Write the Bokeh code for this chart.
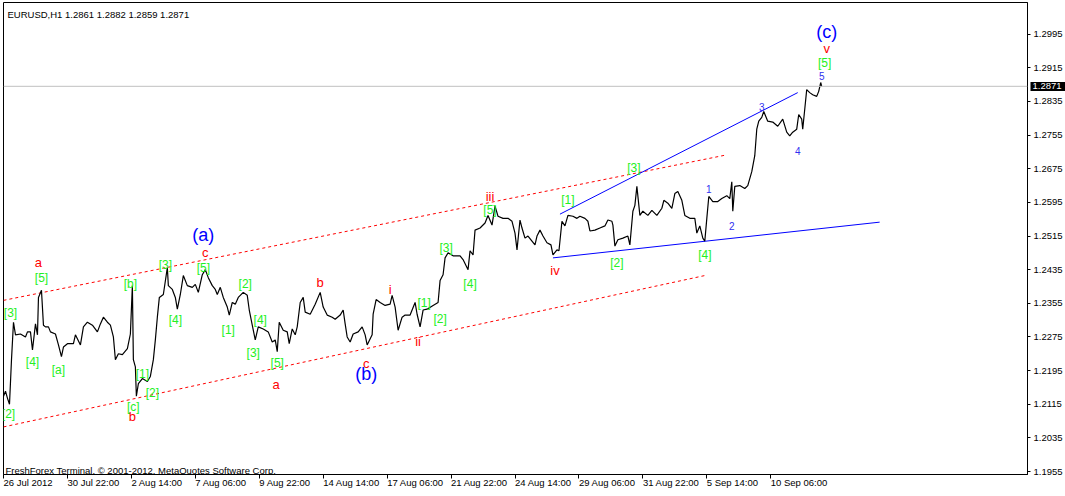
from bokeh.plotting import figure
from bokeh.models import Range1d, FixedTicker, Span, PrintfTickFormatter, LinearAxis
from bokeh.core.properties import value
from bokeh.embed import file_html
from bokeh.resources import INLINE

# ---- price series (H1 close, bar index from 26 Jul 2012) ----
bars = [0, 2, 4, 6, 8, 10, 12, 17, 22, 24, 27, 29, 32, 34, 35, 38, 40, 42, 45, 47,
        52, 55, 58, 60, 64, 70, 72, 77, 80, 84, 89, 94, 97, 100, 104, 107, 110, 112, 115, 119,
        124, 127, 129, 130, 132, 133, 135, 139, 144, 147, 150, 152, 154, 156, 160, 164, 165, 169, 172, 174,
        177, 180, 184, 189, 192, 195, 199, 202, 205, 209, 212, 214, 217, 220, 224, 226, 229, 232, 235, 240,
        244, 246, 249, 252, 255, 260, 265, 269, 272, 274, 276, 280, 284, 286, 289, 292, 294, 297, 300, 302,
        307, 312, 317, 320, 324, 329, 332, 337, 340, 342, 344, 347, 350, 355, 359, 362, 364, 369, 370, 373,
        377, 382, 387, 389, 392, 395, 399, 402, 407, 412, 414, 417, 420, 424, 430, 435, 437, 440, 442, 445,
        450, 457, 460, 465, 467, 470, 472, 477, 482, 485, 489, 492, 495, 500, 505, 509, 512, 514, 517, 519,
        522, 525, 529, 532, 534, 537, 540, 544, 548, 550, 554, 556, 559, 562, 565, 570, 574, 577, 582, 585,
        587, 592, 597, 602, 605, 609, 610, 612, 615, 620, 625, 627, 630, 632, 634, 637, 640, 645, 649, 654,
        659, 661, 665, 669, 672, 675, 679, 682, 687, 692, 694, 697, 700, 702, 704, 706, 710, 715, 719, 724,
        727, 729, 730, 732, 737, 742, 745, 749, 752, 754, 756, 759, 761, 765, 770, 775, 780, 784, 787, 790,
        794, 796, 799, 800, 802, 804, 807, 810, 814, 816, 818, 819]
close = [1.2134, 1.2146, 1.2129, 1.2115, 1.2221, 1.2310, 1.2280, 1.2282, 1.2275, 1.2287,
         1.2287, 1.2244, 1.2306, 1.2280, 1.2369, 1.2386, 1.2303, 1.2299, 1.2299, 1.2287,
         1.2282, 1.2256, 1.2228, 1.2251, 1.2259, 1.2259, 1.2280, 1.2256, 1.2299, 1.2310,
         1.2303, 1.2287, 1.2306, 1.2322, 1.2310, 1.2303, 1.2275, 1.2221, 1.2235, 1.2233,
         1.2247, 1.2282, 1.2397, 1.2221, 1.2204, 1.2134, 1.2164, 1.2176, 1.2169, 1.2181,
         1.2221, 1.2268, 1.2322, 1.2369, 1.2376, 1.2440, 1.2397, 1.2388, 1.2369, 1.2341,
         1.2376, 1.2421, 1.2397, 1.2393, 1.2400, 1.2381, 1.2423, 1.2435, 1.2416, 1.2397,
         1.2388, 1.2376, 1.2393, 1.2369, 1.2346, 1.2327, 1.2357, 1.2353, 1.2369, 1.2381,
         1.2374, 1.2339, 1.2303, 1.2268, 1.2299, 1.2294, 1.2287, 1.2263, 1.2268, 1.2240,
         1.2310, 1.2291, 1.2287, 1.2259, 1.2294, 1.2280, 1.2299, 1.2357, 1.2369, 1.2334,
         1.2329, 1.2353, 1.2381, 1.2346, 1.2327, 1.2322, 1.2317, 1.2327, 1.2339, 1.2306,
         1.2275, 1.2263, 1.2282, 1.2287, 1.2299, 1.2280, 1.2256, 1.2280, 1.2329, 1.2364,
         1.2357, 1.2350, 1.2353, 1.2374, 1.2346, 1.2291, 1.2322, 1.2327, 1.2327, 1.2357,
         1.2329, 1.2299, 1.2339, 1.2341, 1.2350, 1.2357, 1.2409, 1.2423, 1.2463, 1.2475,
         1.2468, 1.2468, 1.2459, 1.2435, 1.2480, 1.2470, 1.2529, 1.2534, 1.2546, 1.2564,
         1.2541, 1.2586, 1.2562, 1.2557, 1.2557, 1.2550, 1.2522, 1.2482, 1.2553, 1.2534,
         1.2510, 1.2515, 1.2503, 1.2494, 1.2515, 1.2529, 1.2515, 1.2499, 1.2494, 1.2470,
         1.2482, 1.2480, 1.2550, 1.2539, 1.2564, 1.2562, 1.2557, 1.2562, 1.2557, 1.2550,
         1.2527, 1.2529, 1.2534, 1.2539, 1.2553, 1.2550, 1.2541, 1.2491, 1.2506, 1.2510,
         1.2515, 1.2494, 1.2574, 1.2588, 1.2633, 1.2564, 1.2574, 1.2564, 1.2576, 1.2564,
         1.2581, 1.2600, 1.2593, 1.2581, 1.2616, 1.2621, 1.2600, 1.2564, 1.2557, 1.2557,
         1.2522, 1.2539, 1.2510, 1.2503, 1.2557, 1.2609, 1.2597, 1.2597, 1.2604, 1.2611,
         1.2604, 1.2644, 1.2574, 1.2633, 1.2635, 1.2628, 1.2635, 1.2668, 1.2706, 1.2769,
         1.2788, 1.2797, 1.2811, 1.2788, 1.2786, 1.2776, 1.2793, 1.2762, 1.2753, 1.2762,
         1.2769, 1.2804, 1.2793, 1.2769, 1.2816, 1.2863, 1.2856, 1.2851, 1.2847, 1.2859,
         1.2880, 1.2871]

last_price = 1.2871
header_text = "EURUSD,H1  1.2861 1.2882 1.2859 1.2871"
footer_text = "FreshForex Terminal, \u00a9 2001-2012, MetaQuotes Software Corp."

# ---- axes ----
x_ticks = [0, 64, 128, 192, 256, 320, 384, 448, 512, 576, 640, 704, 768]
x_tick_labels = ["26 Jul 2012", "30 Jul 22:00", "2 Aug 14:00", "7 Aug 06:00", "9 Aug 22:00",
                 "14 Aug 14:00", "17 Aug 06:00", "21 Aug 22:00", "24 Aug 14:00", "29 Aug 06:00",
                 "31 Aug 22:00", "5 Sep 14:00", "10 Sep 06:00"]
y_ticks = [1.1955, 1.2035, 1.2115, 1.2195, 1.2275, 1.2355, 1.2435, 1.2515, 1.2595,
           1.2675, 1.2755, 1.2835, 1.2915, 1.2995]

# ---- wave labels ----
green_bar = [7, 5, 38, 29, 55, 127, 130, 139, 149, 162, 172, 200, 242, 225, 257, 250, 274,
             421, 437, 443, 467, 487, 565, 614, 631, 702, 822]
green_price = [1.2331, 1.2091, 1.2416, 1.2216, 1.2197, 1.2402, 1.2108, 1.2188, 1.2141, 1.2447,
               1.2315, 1.2440, 1.2400, 1.2291, 1.2315, 1.2237, 1.2214,
               1.2355, 1.2317, 1.2487, 1.2400, 1.2576, 1.2600, 1.2451, 1.2677, 1.2470, 1.2927]
green_text = ["[3]", "[2]", "[5]", "[4]", "[a]", "[b]", "[c]", "[1]", "[2]", "[3]", "[4]", "[5]",
              "[2]", "[1]", "[4]", "[3]", "[5]",
              "[1]", "[2]", "[3]", "[4]", "[5]", "[1]", "[2]", "[3]", "[4]", "[5]"]

red_bar = [35, 129, 202, 273, 317, 363, 387, 415, 487, 552, 824]
red_price = [1.2451, 1.2087, 1.2475, 1.2162, 1.2404, 1.2211, 1.2388, 1.2263, 1.2609, 1.2433, 1.2962]
red_text = ["a", "b", "c", "a", "b", "c", "i", "ii", "iii", "iv", "v"]

major_bar = [200, 363, 824]
major_price = [1.2517, 1.2186, 1.3000]
major_text = ["(a)", "(b)", "(c)"]

minor_bar = [706, 729, 759, 795, 819]
minor_price = [1.2626, 1.2539, 1.2821, 1.2717, 1.2896]
minor_text = ["1", "2", "3", "4", "5"]

# ---- trend lines ----
channel_top_bar = [0, 724]
channel_top_price = [1.2362, 1.2708]
channel_bottom_bar = [0, 702]
channel_bottom_price = [1.2061, 1.2421]
wedge_top_bar = [557, 795]
wedge_top_price = [1.2567, 1.2856]
wedge_bottom_bar = [550, 877]
wedge_bottom_price = [1.2463, 1.2548]

FONT = "Liberation Sans"
X_END = 1025.0
Y_START = 1.19479
Y_END = 1.30703

p = figure(width=1065, height=496, output_backend="svg", toolbar_location=None,
           x_range=Range1d(0, X_END), y_range=Range1d(Y_START, Y_END),
           x_axis_location="below", y_axis_location="right",
           min_border_left=3, min_border_top=2, min_border_right=37, min_border_bottom=17)
p.grid.visible = False
p.outline_line_color = "black"
p.outline_line_width = 1
p.background_fill_color = "white"
p.border_fill_color = "white"

xa = p.xaxis[0]
xa.axis_label = None
xa.ticker = FixedTicker(ticks=x_ticks)
xa.major_label_overrides = {t: l for t, l in zip(x_ticks, x_tick_labels)}
xa.major_tick_out = 4
xa.major_tick_in = 0
xa.minor_tick_out = 0
xa.minor_tick_in = 0
xa.axis_line_color = "black"
xa.major_tick_line_color = "black"
xa.major_label_text_font = FONT
xa.major_label_text_font_size = "9.5px"
xa.major_label_text_color = "black"
xa.major_label_orientation = -1e-6
xa.major_label_standoff = 4

ya = p.yaxis[0]
ya.axis_label = None
ya.ticker = FixedTicker(ticks=y_ticks)
ya.formatter = PrintfTickFormatter(format="%.4f")
ya.major_tick_out = 3
ya.major_tick_in = 0
ya.minor_tick_out = 0
ya.minor_tick_in = 0
ya.axis_line_color = "black"
ya.major_tick_line_color = "black"
ya.major_label_text_font = FONT
ya.major_label_text_font_size = "9.5px"
ya.major_label_text_color = "black"
ya.major_label_standoff = 3

# current-price tag: a second price scale whose tick is drawn back toward the frame
tag = LinearAxis(axis_label=None,
                 ticker=FixedTicker(ticks=[last_price]),
                 formatter=PrintfTickFormatter(format="%.4f"))
tag.axis_line_color = None
tag.minor_tick_line_color = None
tag.minor_tick_out = 0
tag.minor_tick_in = 0
tag.major_tick_line_color = "black"
tag.major_tick_line_width = 9
tag.major_tick_out = 2
tag.major_tick_in = 35
tag.major_label_standoff = -35
tag.major_label_text_font = FONT
tag.major_label_text_font_size = "9.5px"
tag.major_label_text_color = "white"
p.add_layout(tag, "right")

p.add_layout(Span(location=last_price, dimension="width", line_color="#C0C0C0", line_width=1))

p.line(channel_top_bar, channel_top_price, line_color="red", line_width=1, line_dash="3 3")
p.line(channel_bottom_bar, channel_bottom_price, line_color="red", line_width=1, line_dash="3 3")
p.line(wedge_top_bar, wedge_top_price, line_color="blue", line_width=1)
p.line(wedge_bottom_bar, wedge_bottom_price, line_color="blue", line_width=1)

p.line(bars, close, line_color="black", line_width=1.2)

p.text(x=green_bar, y=green_price, text=green_text, text_color="#22F022",
       text_font=value(FONT), text_font_size="12px", text_align="center", text_baseline="middle")
p.text(x=red_bar, y=red_price, text=red_text, text_color="red",
       text_font=value(FONT), text_font_size="13px", text_align="center", text_baseline="middle")
p.text(x=major_bar, y=major_price, text=major_text, text_color="blue",
       text_font=value(FONT), text_font_size="18px", text_align="center", text_baseline="middle")
p.text(x=minor_bar, y=minor_price, text=minor_text, text_color="#3030F0",
       text_font=value(FONT), text_font_size="10px", text_align="center", text_baseline="middle")

p.text(x=[4], y=[1.30421], text=[header_text], text_color="black",
       text_font=value(FONT), text_font_size="9.5px", text_align="left", text_baseline="alphabetic")
p.text(x=[2], y=[1.19574], text=[footer_text], text_color="black",
       text_font=value(FONT), text_font_size="9.5px", text_align="left", text_baseline="alphabetic")

open("out.html", "w").write(file_html(p, INLINE))
